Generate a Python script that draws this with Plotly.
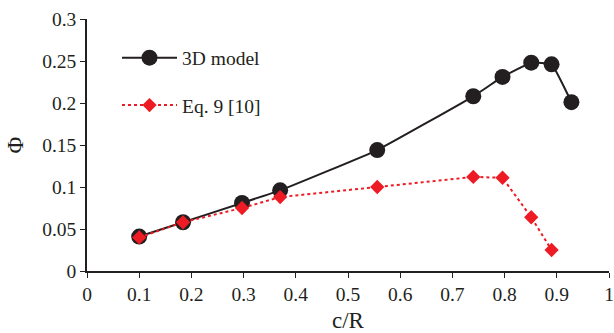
import plotly.graph_objects as go

cr_model = [0.100, 0.184, 0.297, 0.370, 0.556, 0.740, 0.796, 0.851, 0.890, 0.928]
phi_model = [0.041, 0.058, 0.081, 0.096, 0.144, 0.208, 0.231, 0.248, 0.246, 0.201]

cr_eq9 = [0.100, 0.184, 0.297, 0.370, 0.556, 0.740, 0.796, 0.851, 0.890]
phi_eq9 = [0.040, 0.058, 0.075, 0.088, 0.100, 0.112, 0.111, 0.064, 0.025]

x_ticks = [0, 0.1, 0.2, 0.3, 0.4, 0.5, 0.6, 0.7, 0.8, 0.9, 1]
x_labels = ["0", "0.1", "0.2", "0.3", "0.4", "0.5", "0.6", "0.7", "0.8", "0.9", "1"]
y_ticks = [0, 0.05, 0.1, 0.15, 0.2, 0.25, 0.3]
y_labels = ["0", "0.05", "0.1", "0.15", "0.2", "0.25", "0.3"]

FONT = "Liberation Serif, Times New Roman, serif"

fig = go.Figure()
fig.add_trace(go.Scatter(
    x=cr_model, y=phi_model, name="3D model", mode="lines+markers",
    legendgroup="a",
    line=dict(color="#231f20", width=2, shape="spline", smoothing=0.3),
    marker=dict(symbol="circle", size=16, color="#231f20"),
))
fig.add_trace(go.Scatter(
    x=cr_eq9, y=phi_eq9, name="Eq. 9 [10]", mode="lines+markers",
    legendgroup="b",
    line=dict(color="#ed1c24", width=2, dash="dot"),
    marker=dict(symbol="diamond", size=11, color="#ed1c24"),
))

fig.update_layout(
    width=614, height=333,
    margin=dict(l=87, r=5, t=19, b=62, autoexpand=False),
    paper_bgcolor="white", plot_bgcolor="white",
    font=dict(family=FONT, size=19.5, color="#231f20"),
    showlegend=True,
    legend=dict(x=0.0575, y=0.9226, xanchor="left", yanchor="top",
                bgcolor="rgba(0,0,0,0)", font=dict(size=19.5),
                tracegroupgap=19, itemwidth=55, itemsizing="trace"),
    xaxis=dict(range=[0, 1], tickvals=x_ticks, ticktext=x_labels,
               showgrid=False, zeroline=False, showline=True,
               linecolor="#231f20", linewidth=1.5, ticks="outside",
               ticklen=5, tickcolor="#231f20", automargin=False,
               title=dict(text="c/R", standoff=8)),
    yaxis=dict(range=[0, 0.3], tickvals=y_ticks, ticktext=y_labels,
               showgrid=False, zeroline=False, showline=True,
               linecolor="#231f20", linewidth=1.5, ticks="outside",
               ticklen=5, tickcolor="#231f20", automargin=False,
               title=dict(text="Φ", standoff=12)),
)

fig.write_html("out.html", config={"displayModeBar": False},
               post_script="document.body.style.margin='0px';")
